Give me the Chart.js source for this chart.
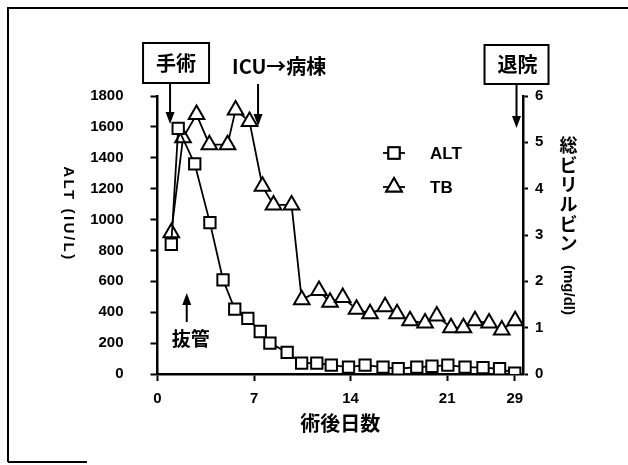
<!DOCTYPE html>
<html>
<head>
<meta charset="utf-8">
<script src="https://cdn.jsdelivr.net/npm/chart.js@4.4.1/dist/chart.umd.min.js"></script>
<style>
  html, body { margin: 0; padding: 0; background: #fff; }
  #wrap { width: 628px; height: 465px; position: relative; }
</style>
</head>
<body>
<div id="wrap"><canvas id="grafico"></canvas></div>
<script>
// ALT (IU/L), left axis
const altDays = [1.0, 1.5, 2.7, 3.8, 4.75, 5.6, 6.55, 7.45, 8.15, 9.4, 10.45, 11.55, 12.6, 13.85,
  15.05, 16.35, 17.45, 18.8, 19.9, 21.05, 22.3, 23.6, 24.8, 25.9];
const altValues = [840, 1590, 1360, 980, 610, 420, 360, 275, 200, 140, 70, 70, 57, 45,
  57, 45, 34, 45, 50, 57, 45, 41, 34, 5];

// 総ビリルビン (mg/dl), right axis
const tbDays = [1.0, 1.85, 2.83, 3.76, 5.08, 5.66, 6.67, 7.61, 8.41, 9.72, 10.46, 11.71, 12.51, 13.43,
  14.43, 15.41, 16.5, 17.37, 18.31, 19.4, 20.25, 21.28, 22.18, 23.02, 24.04, 24.96, 25.93];
const tbValues = [3.05, 5.1, 5.6, 4.95, 4.95, 5.7, 5.45, 4.05, 3.65, 3.65, 1.6, 1.8, 1.55, 1.65,
  1.4, 1.3, 1.45, 1.3, 1.15, 1.1, 1.25, 1.0, 1.0, 1.15, 1.1, 0.95, 1.15];

// x axis ticks (the last tick reads 29 at the end of the axis)
const dayTicks = [0, 7, 14, 21, 25.9];
const dayTickLabels = ['0', '7', '14', '21', '29'];

// event markers (day positions)
const surgeryDay = 0.91;
const icuDay = 7.29;
const extubationDay = 2.12;
const dischargeDay = 26.03;

const numFont = { family: 'Liberation Sans', size: 15, weight: 'bold' };
const jpFamily = '"Noto Sans CJK JP", sans-serif';

const arrow = (ctx, x, y0, y1) => {
  const dir = y1 > y0 ? 1 : -1;
  ctx.lineWidth = 2;
  ctx.beginPath();
  ctx.moveTo(x, y0);
  ctx.lineTo(x, y1 - dir * 10);
  ctx.stroke();
  ctx.beginPath();
  ctx.moveTo(x - 4.5, y1 - dir * 12);
  ctx.lineTo(x + 4.5, y1 - dir * 12);
  ctx.lineTo(x, y1);
  ctx.closePath();
  ctx.fill();
};

const decor = {
  id: 'decor',
  afterDraw(chart) {
    const { ctx, scales: { x } } = chart;
    ctx.save();
    ctx.strokeStyle = '#000';
    ctx.fillStyle = '#000';

    // scanned frame
    ctx.lineWidth = 2;
    ctx.beginPath();
    ctx.moveTo(8, 462);
    ctx.lineTo(8, 8);
    ctx.lineTo(628, 8);
    ctx.stroke();
    ctx.beginPath();
    ctx.moveTo(8, 462);
    ctx.lineTo(87, 462);
    ctx.stroke();

    ctx.textAlign = 'center';
    ctx.textBaseline = 'middle';

    // 手術
    const sx = x.getPixelForValue(surgeryDay);
    ctx.lineWidth = 2;
    ctx.strokeRect(sx - 27, 43, 66, 40);
    ctx.font = 'bold 20px ' + jpFamily;
    ctx.fillText('手術', sx + 6, 63);
    arrow(ctx, sx, 83, 124);

    // ICU→病棟
    const ix = x.getPixelForValue(icuDay);
    ctx.textAlign = 'left';
    ctx.fillText('ICU→病棟', ix - 26, 66);
    arrow(ctx, ix, 84, 126);

    // 退院
    const dx = x.getPixelForValue(dischargeDay);
    ctx.textAlign = 'center';
    ctx.lineWidth = 2;
    ctx.strokeRect(dx - 32, 45, 64, 39);
    ctx.fillText('退院', dx + 1, 64);
    arrow(ctx, dx, 84, 128);

    // 抜管
    const ex = x.getPixelForValue(extubationDay);
    arrow(ctx, ex, 322, 293);
    ctx.font = 'bold 19px ' + jpFamily;
    ctx.fillText('抜管', ex + 4, 339);

    // legend
    [[153, 0], [187, 1]].forEach(([ly, di]) => {
      const ds = chart.data.datasets[di];
      ctx.lineWidth = 1.8;
      ctx.beginPath();
      ctx.moveTo(383, ly);
      ctx.lineTo(405, ly);
      ctx.stroke();
      Chart.helpers.drawPoint(ctx, {
        pointStyle: ds.pointStyle, radius: ds.pointRadius, borderWidth: ds.pointBorderWidth, rotation: 0
      }, 394, ly);
      ctx.fillStyle = '#fff';
      ctx.fill();
      ctx.lineWidth = ds.pointBorderWidth;
      ctx.stroke();
      ctx.fillStyle = '#000';
      ctx.textAlign = 'left';
      ctx.font = 'bold 17px "Liberation Sans"';
      ctx.fillText(ds.label, 430, ly + 1);
    });

    // left axis title, rotated clockwise
    ctx.save();
    ctx.translate(68.5, 214);
    ctx.rotate(Math.PI / 2);
    ctx.textAlign = 'center';
    ctx.font = 'bold 15px "Liberation Sans"';
    ctx.letterSpacing = '2.5px';
    ctx.fillText('ALT (IU/L)', 0, 0);
    ctx.restore();

    // right axis title, vertical kana + rotated unit
    ctx.textAlign = 'center';
    ctx.font = 'bold 18px ' + jpFamily;
    [...'総ビリルビン'].forEach((ch, i) => {
      ctx.fillText(ch, 568.5, 145 + i * 19.7);
    });
    ctx.save();
    ctx.translate(568.5, 290);
    ctx.rotate(Math.PI / 2);
    ctx.font = 'bold 15px "Liberation Sans"';
    ctx.fillText('(mg/dl)', 0, 0);
    ctx.restore();

    ctx.restore();
  }
};

const grid = { drawOnChartArea: false, tickLength: 7, tickWidth: 2, tickColor: '#000' };
const border = { color: '#000', width: 2.5 };

new Chart(document.getElementById('grafico'), {
  type: 'line',
  data: {
    datasets: [
      {
        label: 'ALT',
        data: altDays.map((d, i) => ({ x: d, y: altValues[i] })),
        yAxisID: 'y',
        borderColor: '#000',
        borderWidth: 1.8,
        pointStyle: 'rect',
        pointRadius: 8,
        pointBackgroundColor: '#fff',
        pointBorderColor: '#000',
        pointBorderWidth: 2
      },
      {
        label: 'TB',
        data: tbDays.map((d, i) => ({ x: d, y: tbValues[i] })),
        yAxisID: 'y1',
        borderColor: '#000',
        borderWidth: 1.8,
        pointStyle: 'triangle',
        pointRadius: 9,
        pointBackgroundColor: '#fff',
        pointBorderColor: '#000',
        pointBorderWidth: 2
      }
    ]
  },
  options: {
    responsive: true,
    maintainAspectRatio: false,
    animation: false,
    layout: { padding: { top: 96, left: 0, right: 0, bottom: 0 } },
    plugins: {
      legend: { display: false },
      tooltip: { enabled: false }
    },
    scales: {
      x: {
        type: 'linear',
        min: 0,
        max: 26.5,
        afterBuildTicks: s => { s.ticks = dayTicks.map(v => ({ value: v })); },
        afterFit: s => { s.height = 91; },
        ticks: {
          callback: (v, i) => dayTickLabels[i],
          font: numFont, color: '#000', padding: 9, maxRotation: 0, autoSkip: false
        },
        grid: grid,
        border: border,
        title: {
          display: true, text: '術後日数', color: '#000',
          font: { family: 'Noto Sans CJK JP', size: 20, weight: 'bold' },
          padding: { top: 0, bottom: 30 }
        }
      },
      y: {
        position: 'left',
        min: 0,
        max: 1800,
        afterFit: s => { s.width = 157.5; },
        ticks: { stepSize: 200, callback: v => String(v), font: numFont, color: '#000', padding: 27 },
        grid: grid,
        border: border
      },
      y1: {
        position: 'right',
        min: 0,
        max: 6,
        afterFit: s => { s.width = 105; },
        ticks: { stepSize: 1, callback: v => String(v), font: numFont, color: '#000', padding: 7 },
        grid: { drawOnChartArea: false, tickLength: 5, tickWidth: 2, tickColor: '#000' },
        border: border
      }
    }
  },
  plugins: [decor]
});
</script>
</body>
</html>
